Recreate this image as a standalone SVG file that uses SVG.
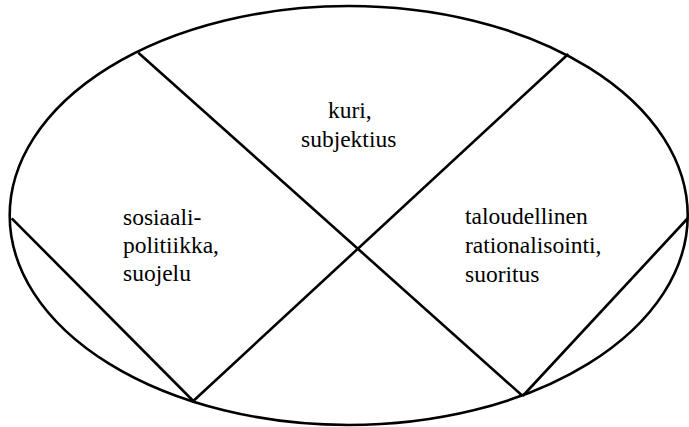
<svg xmlns="http://www.w3.org/2000/svg" width="689" height="427" viewBox="0 0 689 427">
<style>
.s{fill:none;stroke:#000;stroke-width:2.6}
.t{font-family:"Times New Roman","Liberation Serif",Tinos,"DejaVu Serif",serif;font-size:23.5px;fill:#000}
</style>
<rect width="689" height="427" fill="#fff"/>
<g id="ellipse"><ellipse class="s" cx="348.7" cy="215.5" rx="339" ry="209.5"/></g>
<g id="connectors">
<line class="s" x1="138.3" y1="52.7" x2="522.7" y2="396"/>
<line class="s" x1="568.3" y1="54" x2="193.3" y2="401"/>
<line class="s" x1="11.7" y1="218.3" x2="193.3" y2="401"/>
<line class="s" x1="522.7" y1="396" x2="688" y2="218"/>
</g>
<g id="top">
<text class="t" x="328" y="118">kuri,</text>
<text class="t" x="301" y="147">subjektius</text>
</g>
<g id="left">
<text class="t" x="123" y="225">sosiaali-</text>
<text class="t" x="123" y="253">politiikka,</text>
<text class="t" x="123" y="281">suojelu</text>
</g>
<g id="right">
<text class="t" x="465" y="224">taloudellinen</text>
<text class="t" x="465" y="253">rationalisointi,</text>
<text class="t" x="465" y="282">suoritus</text>
</g>
</svg>
